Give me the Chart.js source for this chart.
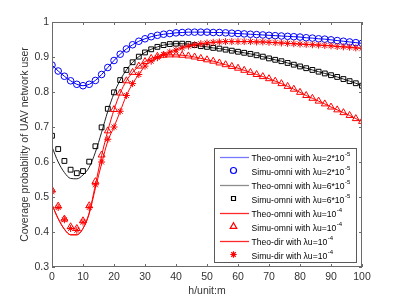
<!DOCTYPE html>
<html>
<head>
<meta charset="utf-8">
<script src="https://cdn.jsdelivr.net/npm/chart.js@4.4.0/dist/chart.umd.min.js"></script>
<style>
html, body { margin: 0; padding: 0; background: #fff; }
</style>
</head>
<body>
<canvas id="myChart" width="399" height="299"></canvas>
<script>
// x positions (height h, unit m)
const hValues = [0, 2, 4, 6, 8, 10, 12, 14, 16, 18, 20, 22, 24, 26, 28, 30, 32, 34, 36, 38, 40,
    42, 44, 46, 48, 50, 52, 54, 56, 58, 60, 62, 64, 66, 68, 70, 72, 74, 76, 78, 80,
    82, 84, 86, 88, 90, 92, 94, 96, 98, 100];

// lambda_u = 2*10^-5
const theoOmni2 = [0.877, 0.860, 0.845, 0.832, 0.822, 0.818, 0.822, 0.833, 0.850, 0.870, 0.890,
    0.908, 0.923, 0.935, 0.945, 0.952, 0.958, 0.962, 0.965, 0.967, 0.969,
    0.970, 0.971, 0.971, 0.971, 0.971, 0.970, 0.970, 0.969, 0.968, 0.967,
    0.966, 0.965, 0.964, 0.963, 0.962, 0.961, 0.960, 0.959, 0.958, 0.957,
    0.955, 0.954, 0.952, 0.951, 0.949, 0.947, 0.945, 0.943, 0.941, 0.939];
const simuOmni2 = [0.877, 0.860, 0.845, 0.832, 0.822, 0.818, 0.822, 0.833, 0.850, 0.870, 0.890,
    0.908, 0.923, 0.935, 0.945, 0.952, 0.958, 0.962, 0.965, 0.967, 0.969,
    0.970, 0.971, 0.971, 0.971, 0.971, 0.970, 0.970, 0.969, 0.968, 0.967,
    0.966, 0.965, 0.964, 0.963, 0.962, 0.961, 0.960, 0.959, 0.958, 0.957,
    0.955, 0.954, 0.952, 0.951, 0.949, 0.947, 0.945, 0.943, 0.941, 0.939];

// lambda_u = 6*10^-5
const theoOmni6 = [0.643, 0.600, 0.570, 0.553, 0.552, 0.563, 0.585, 0.628, 0.685, 0.745, 0.796,
    0.834, 0.863, 0.885, 0.901, 0.913, 0.922, 0.929, 0.934, 0.937, 0.938,
    0.938, 0.937, 0.934, 0.931, 0.929, 0.926, 0.924, 0.921, 0.918, 0.915,
    0.912, 0.909, 0.905, 0.901, 0.896, 0.892, 0.888, 0.883, 0.878, 0.873,
    0.868, 0.863, 0.858, 0.853, 0.848, 0.843, 0.837, 0.831, 0.825, 0.818];
const simuOmni6 = [0.675, 0.637, 0.603, 0.578, 0.568, 0.574, 0.601, 0.645, 0.699, 0.752, 0.799,
    0.834, 0.863, 0.885, 0.901, 0.913, 0.922, 0.929, 0.934, 0.937, 0.938,
    0.938, 0.937, 0.934, 0.931, 0.929, 0.926, 0.924, 0.921, 0.918, 0.915,
    0.912, 0.909, 0.905, 0.901, 0.896, 0.892, 0.888, 0.883, 0.878, 0.873,
    0.868, 0.863, 0.858, 0.853, 0.848, 0.843, 0.837, 0.831, 0.825, 0.818];

// lambda_u = 10^-4, omni
const theoOmni10 = [0.478, 0.438, 0.408, 0.392, 0.392, 0.410, 0.455, 0.535, 0.618, 0.689, 0.749,
    0.797, 0.832, 0.856, 0.874, 0.887, 0.896, 0.902, 0.905, 0.906, 0.906,
    0.905, 0.903, 0.900, 0.896, 0.892, 0.888, 0.883, 0.878, 0.873, 0.868,
    0.862, 0.856, 0.850, 0.844, 0.838, 0.831, 0.824, 0.816, 0.808, 0.799,
    0.790, 0.782, 0.774, 0.766, 0.757, 0.749, 0.741, 0.733, 0.724, 0.716];
const simuOmni10 = [0.520, 0.474, 0.437, 0.415, 0.410, 0.432, 0.475, 0.544, 0.620, 0.689, 0.750,
    0.797, 0.832, 0.856, 0.874, 0.887, 0.896, 0.902, 0.905, 0.906, 0.906,
    0.905, 0.903, 0.900, 0.896, 0.892, 0.888, 0.883, 0.878, 0.873, 0.868,
    0.862, 0.856, 0.850, 0.844, 0.838, 0.831, 0.824, 0.816, 0.808, 0.799,
    0.790, 0.782, 0.774, 0.766, 0.757, 0.749, 0.741, 0.733, 0.724, 0.716];

// lambda_u = 10^-4, directional
const theoDir10 = [0.478, 0.438, 0.408, 0.392, 0.392, 0.410, 0.452, 0.525, 0.595, 0.660, 0.700,
    0.745, 0.790, 0.824, 0.850, 0.874, 0.888, 0.898, 0.907, 0.914, 0.920,
    0.926, 0.931, 0.935, 0.938, 0.940, 0.942, 0.943, 0.944, 0.944, 0.944,
    0.944, 0.944, 0.943, 0.943, 0.942, 0.941, 0.940, 0.939, 0.938, 0.937,
    0.936, 0.935, 0.934, 0.933, 0.932, 0.930, 0.929, 0.928, 0.926, 0.925];
const simuDir10 = [0.515, 0.470, 0.435, 0.410, 0.405, 0.428, 0.470, 0.535, 0.600, 0.665, 0.700,
    0.745, 0.790, 0.824, 0.850, 0.874, 0.888, 0.898, 0.907, 0.914, 0.920,
    0.926, 0.931, 0.935, 0.938, 0.940, 0.942, 0.943, 0.944, 0.944, 0.944,
    0.944, 0.944, 0.943, 0.943, 0.942, 0.941, 0.940, 0.939, 0.938, 0.937,
    0.936, 0.935, 0.934, 0.933, 0.932, 0.930, 0.929, 0.928, 0.926, 0.925];

// tick labels
const xTicks = [0, 10, 20, 30, 40, 50, 60, 70, 80, 90, 100];
const yTicks = [0.3, 0.4, 0.5, 0.6, 0.7, 0.8, 0.9, 1];

// legend texts (main text, superscript)
const legendText = [
    ['Theo-omni with \u03bbu=2*10', '-5'],
    ['Simu-omni with \u03bbu=2*10', '-5'],
    ['Theo-omni with \u03bbu=6*10', '-5'],
    ['Simu-omni with \u03bbu=6*10', '-5'],
    ['Theo-omni with \u03bbu=10', '-4'],
    ['Simu-omni with \u03bbu=10', '-4'],
    ['Theo-dir with \u03bbu=10', '-4'],
    ['Simu-dir with \u03bbu=10', '-4']
];

const BLUE = '#0000ff';
const BLACK = '#222222';
const RED = '#ff0000';
const FONT = '"Liberation Sans", Arial, sans-serif';

// what each legend row shows: a line or a marker
const legendSymbols = [
    {line: 'rgb(120,120,255)'},
    {color: BLUE, style: 'circle', r: 3},
    {line: 'rgb(140,140,140)'},
    {color: '#000', style: 'rect', r: 2.8},
    {line: 'rgb(255,40,40)'},
    {color: RED, style: 'triangle', r: 3.8},
    {line: 'rgb(255,40,40)'},
    {color: RED, style: 'star', r: 3.2}
];

function toPoints(ys) {
    return hValues.map((h, i) => ({x: h, y: ys[i]}));
}

function theoLine(ys, color) {
    return {
        data: toPoints(ys), borderColor: color, borderWidth: 1, pointRadius: 0,
        showLine: true, fill: false, cubicInterpolationMode: 'monotone'
    };
}

function simuMarks(ys, color, style, r) {
    return {
        data: toPoints(ys), borderColor: color, backgroundColor: 'rgba(0,0,0,0)',
        borderWidth: 1, pointStyle: style, pointRadius: r, showLine: false
    };
}

const datasets = [
    theoLine(theoOmni2, BLUE),
    simuMarks(simuOmni2, BLUE, 'circle', 3.3),
    theoLine(theoOmni6, BLACK),
    simuMarks(simuOmni6, '#000', 'rect', 3.4),
    theoLine(theoOmni10, RED),
    simuMarks(simuOmni10, RED, 'triangle', 4),
    theoLine(theoDir10, RED),
    simuMarks(simuDir10, RED, 'star', 3.5)
];
// later datasets on top, like the original plot order
datasets.forEach((d, i) => { d.order = datasets.length - i; });

//frame with inward ticks + legend box
const frameAndLegend = {
    id: 'frameAndLegend',
    afterDraw(chart) {
        const ctx = chart.ctx;
        const a = chart.chartArea;
        const sx = chart.scales.x, sy = chart.scales.y;
        ctx.save();
        ctx.strokeStyle = '#6b6b6b';
        ctx.lineWidth = 1;
        ctx.strokeRect(Math.round(a.left) + 0.5, Math.round(a.top) + 0.5,
            Math.round(a.right - a.left) - 1, Math.round(a.bottom - a.top) - 1);
        ctx.beginPath();
        xTicks.forEach(v => {
            const px = Math.round(sx.getPixelForValue(v)) + 0.5;
            ctx.moveTo(px, a.bottom); ctx.lineTo(px, a.bottom - 3);
            ctx.moveTo(px, a.top); ctx.lineTo(px, a.top + 3);
        });
        yTicks.forEach(v => {
            const py = Math.round(sy.getPixelForValue(v)) + 0.5;
            ctx.moveTo(a.left, py); ctx.lineTo(a.left + 3, py);
            ctx.moveTo(a.right, py); ctx.lineTo(a.right - 3, py);
        });
        ctx.stroke();
        ctx.restore();

        // legend
        const boxW = 142, boxH = 114;
        const bx = Math.round(a.right - 6 - boxW) + 0.5;
        const by = Math.round(a.bottom - 5 - boxH) + 0.5;
        ctx.save();
        ctx.fillStyle = '#fff';
        ctx.fillRect(bx, by, boxW, boxH);
        ctx.strokeStyle = '#5a5a5a';
        ctx.lineWidth = 1;
        ctx.strokeRect(bx, by, boxW, boxH);
        ctx.restore();

        const symX = bx + 19, lineX0 = Math.round(bx + 5), lineX1 = Math.round(bx + 34), textX = bx + 37;
        for (let i = 0; i < legendText.length; i++) {
            const t = legendText[i];
            const s = legendSymbols[i];
            const cy = by + 8 + i * 14;
            ctx.save();
            if (s.line) {
                ctx.beginPath();
                ctx.strokeStyle = s.line;
                ctx.lineWidth = 1.3;
                ctx.setLineDash([]);
                ctx.moveTo(lineX0, Math.round(cy) + 0.5);
                ctx.lineTo(lineX1, Math.round(cy) + 0.5);
                ctx.stroke();
            } else {
                ctx.strokeStyle = s.color;
                ctx.fillStyle = 'rgba(0,0,0,0)';
                ctx.lineWidth = 1.2;
                Chart.helpers.drawPoint(ctx, {pointStyle: s.style, radius: s.r, rotation: 0, borderWidth: 1.2}, symX, cy);
            }
            ctx.restore();
            ctx.save();
            ctx.fillStyle = '#000';
            ctx.textBaseline = 'middle';
            ctx.textAlign = 'left';
            ctx.font = '8.6px ' + FONT;
            ctx.fillText(t[0], textX, cy + 2);
            const w = ctx.measureText(t[0]).width;
            ctx.font = '6px ' + FONT;
            ctx.fillText(t[1], textX + w + 0.5, cy - 2);
            ctx.restore();
        }
    }
};

const chart = new Chart(document.getElementById('myChart'), {
    type: 'line',
    data: {datasets: datasets},
    options: {
        responsive: false,
        animation: false,
        events: [],
        layout: {padding: {left: 0, right: 37, top: 22, bottom: 0}},
        plugins: {legend: {display: false}, tooltip: {enabled: false}},
        scales: {
            x: {
                type: 'linear', min: 0, max: 100,
                afterFit: s => { s.height = 32; },
                afterBuildTicks: s => { s.ticks = xTicks.map(v => ({value: v})); },
                grid: {display: false, drawTicks: false},
                border: {display: false},
                ticks: {padding: 4, color: '#333', font: {family: FONT, size: 10.5}, maxRotation: 0},
                title: {display: true, text: 'h/unit:m', color: '#333', font: {family: FONT, size: 10.5}, padding: {top: 0, bottom: 2}}
            },
            y: {
                type: 'linear', min: 0.3, max: 1,
                afterFit: s => { s.width = 52; },
                afterBuildTicks: s => { s.ticks = yTicks.map(v => ({value: v})); },
                grid: {display: false, drawTicks: false},
                border: {display: false},
                ticks: {padding: 3, color: '#333', font: {family: FONT, size: 10.5},
                    callback: v => String(Number(v.toFixed(1)))},
                title: {display: true, text: 'Coverage probability of UAV network user', color: '#333', font: {family: FONT, size: 10.5}, padding: {top: 19, bottom: 0}}
            }
        }
    },
    plugins: [frameAndLegend]
});
</script>
</body>
</html>
